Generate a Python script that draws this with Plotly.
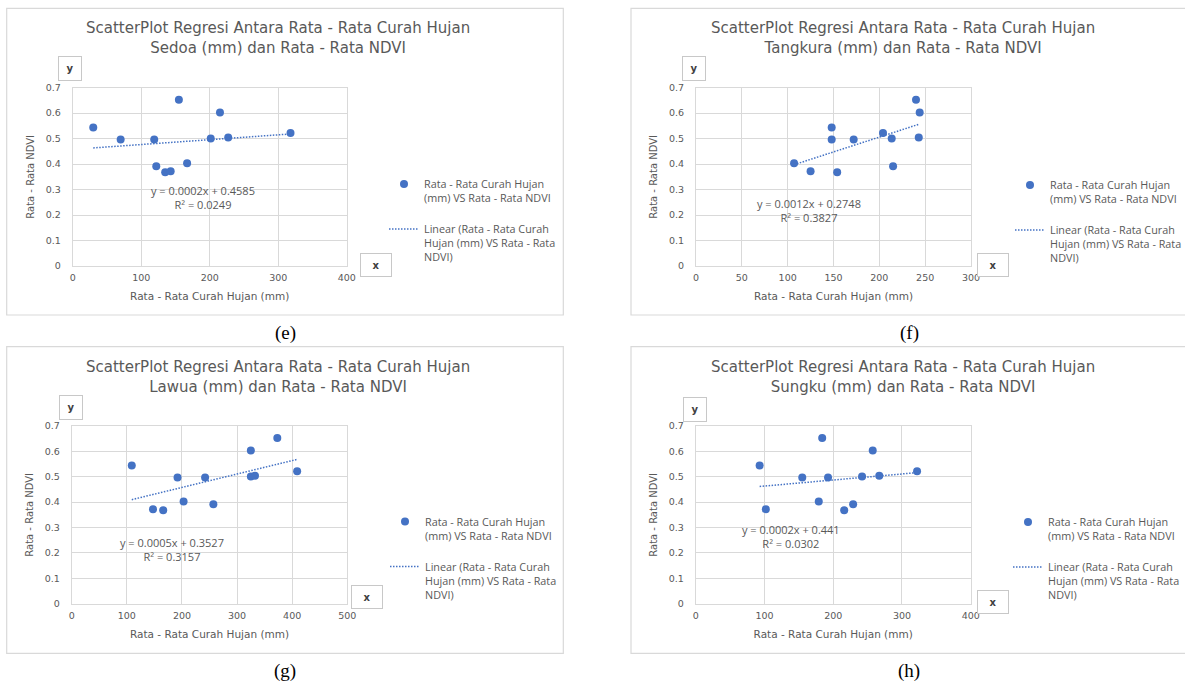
import numpy as np
import plotly.graph_objects as go

W, H = 1185, 686

# ---------------- data ----------------
ndvi = [0.544, 0.497, 0.497, 0.653, 0.392, 0.368, 0.372, 0.403, 0.501, 0.603, 0.504, 0.522]
rain_sedoa = [30, 70, 119, 155, 122, 135, 143, 167, 201.5, 215, 227, 318]
rain_tangkura = [148, 148, 172, 240, 215, 154, 125, 107, 213.5, 244, 243, 204]
rain_lawua = [109, 192, 242, 373, 257, 166, 147.5, 203, 325, 325, 332.5, 409]
rain_sungku = [93, 155, 192.5, 184, 229, 216, 102, 179, 242, 257.5, 267, 322]

stations = ["Sedoa", "Tangkura", "Lawua", "Sungku"]
rains = [rain_sedoa, rain_tangkura, rain_lawua, rain_sungku]
equations = ["y = 0.0002x + 0.4585", "y = 0.0012x + 0.2748", "y = 0.0005x + 0.3527", "y = 0.0002x + 0.441"]
r2_texts = ["R² = 0.0249", "R² = 0.3827", "R² = 0.3157", "R² = 0.0302"]
captions = ["(e)", "(f)", "(g)", "(h)"]
x_max = [400, 300, 500, 400]
x_dtick = [100, 50, 100, 100]

# ---------------- layout geometry (pixels) ----------------
plot_x = [(72.7, 346.7), (696, 971), (71.7, 347.3), (695.7, 970.7)]
plot_y = [(87.7, 266), (87.7, 266), (426, 603.7), (426, 603.7)]
panel_box = [(6.7, 8.3, 563.3, 315), (631, 8.3, 1190, 315), (6.7, 346.7, 563.3, 653.3), (631, 346.7, 1190, 653.3)]
title_c = [(277.5, 38), (902.5, 38), (277.5, 377), (902.5, 377)]
caption_c = [(285, 333), (910, 333), (285, 671), (909, 671)]
ybox_c = [(70, 69), (693.5, 69), (70.5, 407), (695, 409)]
xbox_c = [(375.5, 265), (993, 265), (366.5, 597), (992.5, 602)]
eq_c = [(203, 197.5), (809, 211), (171.7, 549), (791, 536)]
legend_xy = [(384, 170.5), (1010, 171.5), (385, 508), (1008, 508.5)]

GRAY = "#595959"
GRID = "#d9d9d9"
BLUE = "#4472C4"
FONT = "DejaVu Sans"
FONT2 = "Open Sans"


def px(x):
    return x / W


def py(y):
    return 1 - y / H


fig = go.Figure()
annotations = []
shapes = []

for i in range(4):
    xa = "x" if i == 0 else f"x{i + 1}"
    ya = "y" if i == 0 else f"y{i + 1}"
    lg = "legend" if i == 0 else f"legend{i + 1}"
    xr = rains[i]

    fig.add_trace(go.Scatter(
        x=xr, y=ndvi, mode="markers", xaxis=xa, yaxis=ya,
        marker=dict(color=BLUE, size=8),
        name="Rata - Rata Curah Hujan<br>(mm) VS Rata - Rata NDVI",
        legend=lg, legendgroup=f"pts{i}",
    ))
    slope, intercept = np.polyfit(xr, ndvi, 1)
    xs = np.array([min(xr), max(xr)])
    fig.add_trace(go.Scatter(
        x=xs, y=slope * xs + intercept, mode="lines", xaxis=xa, yaxis=ya,
        line=dict(color=BLUE, width=1.5, dash="1.5px,1.5px"),
        name="Linear (Rata - Rata Curah<br>Hujan (mm) VS Rata - Rata<br>NDVI)",
        legend=lg, legendgroup=f"lin{i}",
    ))

    axis_common = dict(
        showgrid=True, gridcolor=GRID, gridwidth=1,
        showline=True, linecolor=GRID, mirror=True, zeroline=False,
        tickfont=dict(family=FONT, size=9.5, color=GRAY),
        ticks="",
    )
    x0, x1 = plot_x[i]
    y0, y1 = plot_y[i]
    fig.update_layout({
        ("xaxis" if i == 0 else f"xaxis{i + 1}"): dict(
            axis_common, domain=[px(x0), px(x1)], anchor=ya,
            range=[0, x_max[i]], dtick=x_dtick[i], tick0=0, ticklabelstandoff=3,
            title=dict(text="Rata - Rata Curah Hujan (mm)", standoff=10,
                       font=dict(family=FONT, size=10.5, color=GRAY)),
        ),
        ("yaxis" if i == 0 else f"yaxis{i + 1}"): dict(
            axis_common, domain=[py(y1), py(y0)], anchor=xa,
            range=[0, 0.7], dtick=0.1, tick0=0, ticklabelstandoff=9,
            title=dict(text="Rata - Rata NDVI", standoff=9,
                       font=dict(family=FONT, size=10, color=GRAY)),
        ),
        lg: dict(
            x=px(legend_xy[i][0]), y=py(legend_xy[i][1]), xanchor="left", yanchor="top",
            xref="paper", yref="paper", bgcolor="rgba(0,0,0,0)",
            font=dict(family=FONT2, size=10.8, color=GRAY),
            valign="top", traceorder="grouped", tracegroupgap=14,
            itemwidth=30,
        ),
    })

    # panel border
    bx0, by0, bx1, by1 = panel_box[i]
    shapes.append(dict(type="rect", xref="paper", yref="paper",
                       x0=px(bx0), x1=px(bx1), y0=py(by1), y1=py(by0),
                       line=dict(color=GRID, width=1.2), layer="below"))
    # title
    annotations.append(dict(
        x=px(title_c[i][0]), y=py(title_c[i][1]), xref="paper", yref="paper",
        text=f"ScatterPlot Regresi Antara Rata - Rata Curah Hujan<br>{stations[i]} (mm) dan Rata - Rata NDVI",
        showarrow=False, xanchor="center", yanchor="middle",
        font=dict(family=FONT, size=15, color=GRAY)))
    # caption
    annotations.append(dict(
        x=px(caption_c[i][0]), y=py(caption_c[i][1]), xref="paper", yref="paper",
        text=captions[i], showarrow=False, xanchor="center", yanchor="middle",
        font=dict(family="Liberation Serif", size=19, color="#000000")))
    # y / x boxes
    for (cx, cy), lab, wbox, hbox in [(ybox_c[i], "y", 24, 25), (xbox_c[i], "x", 32, 24)]:
        annotations.append(dict(
            x=px(cx), y=py(cy), xref="paper", yref="paper", text=f"<b>{lab}</b>",
            showarrow=False, xanchor="center", yanchor="middle",
            width=wbox - 2, height=hbox - 2, bordercolor="#c8c8c8", borderwidth=1,
            borderpad=0, bgcolor="#ffffff",
            font=dict(family=FONT, size=10, color="#404040")))
    # equation
    annotations.append(dict(
        x=px(eq_c[i][0]), y=py(eq_c[i][1]), xref="paper", yref="paper",
        text=f"{equations[i]}<br>{r2_texts[i]}", showarrow=False,
        xanchor="center", yanchor="middle",
        font=dict(family=FONT2, size=11, color=GRAY)))

fig.update_layout(
    width=W, height=H, margin=dict(l=0, r=0, t=0, b=0, autoexpand=False),
    paper_bgcolor="#ffffff", plot_bgcolor="#ffffff",
    showlegend=True, annotations=annotations, shapes=shapes,
)

fig.write_html(
    "out.html",
    config={"displayModeBar": False},
    post_script="document.body.style.margin='0';document.body.style.overflow='hidden';",
)
